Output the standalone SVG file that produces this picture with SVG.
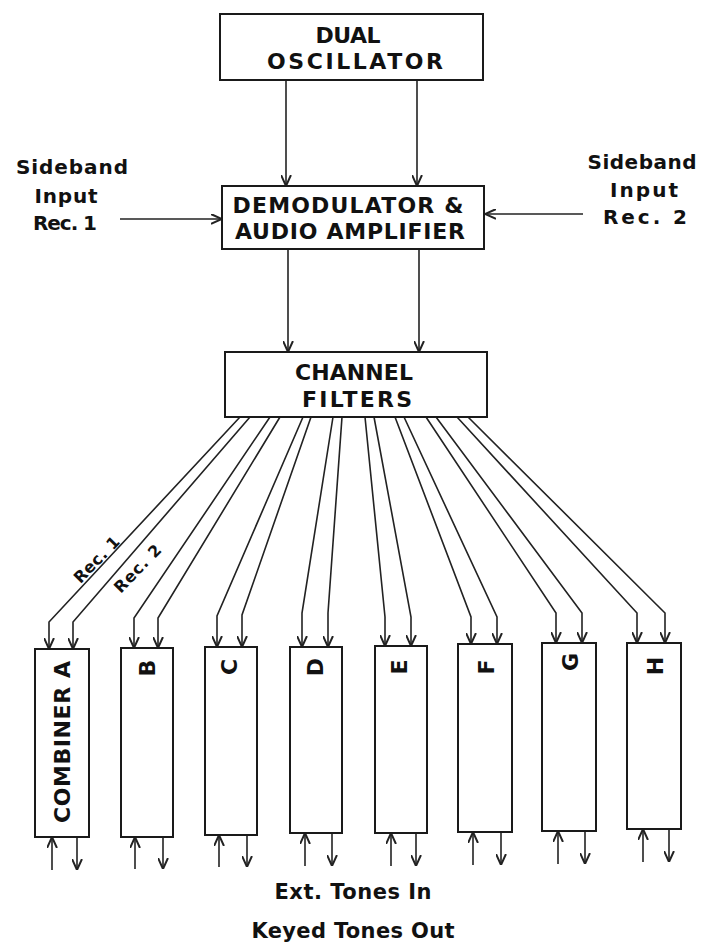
<svg xmlns="http://www.w3.org/2000/svg" width="712" height="948" viewBox="0 0 712 948">
<style>
  .box { fill: #fff; stroke: #1a1a1a; stroke-width: 2; }
  .ln { fill: none; stroke: #222; stroke-width: 1.6; }
  .lbl { font-family: "DejaVu Sans", "Liberation Sans", sans-serif; font-weight: bold; font-size: 22px; fill: #111; text-anchor: middle; }
  .sm { font-family: "DejaVu Sans", "Liberation Sans", sans-serif; font-weight: bold; font-size: 20px; fill: #111; text-anchor: middle; }
  .bt { font-family: "DejaVu Sans", "Liberation Sans", sans-serif; font-weight: bold; font-size: 21px; fill: #111; text-anchor: middle; }
  .rec { font-family: "DejaVu Sans", "Liberation Sans", sans-serif; font-weight: bold; font-size: 16px; fill: #111; text-anchor: middle; }
</style>
<defs>
  <marker id="arr" viewBox="0 0 10 10" refX="10" refY="5" markerWidth="11" markerHeight="11" markerUnits="userSpaceOnUse" orient="auto">
    <path d="M0,0.5 L10,5 L0,9.5" fill="none" stroke="#222" stroke-width="1.8"/>
  </marker>
</defs>
<rect width="712" height="948" fill="#fff"/>

<g id="connectors" class="ln" marker-end="url(#arr)">
  <line x1="286" y1="80" x2="286" y2="186"/>
  <line x1="417" y1="80" x2="417" y2="186"/>
  <line x1="120" y1="219" x2="222" y2="219"/>
  <line x1="583" y1="214" x2="485" y2="214"/>
  <line x1="288" y1="249" x2="288" y2="352"/>
  <line x1="419" y1="249" x2="419" y2="352"/>
  <polyline points="240,417 49,622 49,649"/>
  <polyline points="250,417 73,622 73,649"/>
  <polyline points="270,417 134,618 134,648"/>
  <polyline points="280,417 158,618 158,648"/>
  <polyline points="303,417 217,616 217,647"/>
  <polyline points="311,417 242,615 242,647"/>
  <polyline points="333,417 302,613 302,647"/>
  <polyline points="342,417 328,613 328,647"/>
  <polyline points="365,417 385,617 385,646"/>
  <polyline points="374,417 411,617 411,646"/>
  <polyline points="395,417 471,617 471,644"/>
  <polyline points="404,417 497,617 497,644"/>
  <polyline points="426,417 556,613 556,643"/>
  <polyline points="436,417 582,613 582,643"/>
  <polyline points="457,417 637,613 637,643"/>
  <polyline points="468,417 665,613 665,643"/>
  <line x1="52" y1="870" x2="52" y2="837"/>
  <line x1="77" y1="837" x2="77" y2="870"/>
  <line x1="135" y1="869" x2="135" y2="837"/>
  <line x1="163" y1="837" x2="163" y2="869"/>
  <line x1="219" y1="867" x2="219" y2="835"/>
  <line x1="247" y1="835" x2="247" y2="867"/>
  <line x1="305" y1="866" x2="305" y2="833"/>
  <line x1="332" y1="833" x2="332" y2="866"/>
  <line x1="391" y1="866" x2="391" y2="833"/>
  <line x1="416" y1="833" x2="416" y2="866"/>
  <line x1="473" y1="865" x2="473" y2="832"/>
  <line x1="501" y1="832" x2="501" y2="865"/>
  <line x1="558" y1="864" x2="558" y2="831"/>
  <line x1="585" y1="831" x2="585" y2="864"/>
  <line x1="643" y1="862" x2="643" y2="829"/>
  <line x1="669" y1="829" x2="669" y2="862"/>
</g>

<g id="dual-oscillator">
  <rect class="box" x="220" y="14" width="263" height="66"/>
  <text class="lbl" x="348" y="43" textLength="65" lengthAdjust="spacing">DUAL</text>
  <text class="lbl" x="355" y="69" textLength="176" lengthAdjust="spacing">OSCILLATOR</text>
</g>

<g id="demodulator">
  <rect class="box" x="222" y="186" width="262" height="63"/>
  <text class="lbl" x="348" y="213" textLength="231" lengthAdjust="spacing">DEMODULATOR &amp;</text>
  <text class="lbl" x="350" y="239" textLength="230" lengthAdjust="spacing">AUDIO AMPLIFIER</text>
</g>

<g id="sideband-1">
  <text class="sm" x="72" y="174" textLength="112" lengthAdjust="spacing">Sideband</text>
  <text class="sm" x="66" y="203" textLength="63" lengthAdjust="spacing">Input</text>
  <text class="sm" x="65" y="230" textLength="64" lengthAdjust="spacing">Rec. 1</text>
</g>

<g id="sideband-2">
  <text class="sm" x="642" y="169" textLength="109" lengthAdjust="spacing">Sideband</text>
  <text class="sm" x="644" y="197" textLength="68" lengthAdjust="spacing">Input</text>
  <text class="sm" x="645" y="224" textLength="84" lengthAdjust="spacing">Rec. 2</text>
</g>

<g id="channel-filters">
  <rect class="box" x="225" y="352" width="262" height="65"/>
  <text class="lbl" x="354" y="380" textLength="118" lengthAdjust="spacing">CHANNEL</text>
  <text class="lbl" x="357" y="407" textLength="110" lengthAdjust="spacing">FILTERS</text>
</g>

<g id="rec-labels">
  <text class="rec" transform="translate(97,560) rotate(-46)" y="5" textLength="58" lengthAdjust="spacing">Rec. 1</text>
  <text class="rec" transform="translate(138,569) rotate(-46)" y="5" textLength="60" lengthAdjust="spacing">Rec. 2</text>
</g>

<g id="combiner-a">
  <rect class="box" x="35" y="649" width="54" height="188"/>
  <text class="lbl" transform="translate(70,742) rotate(-90)" textLength="162" lengthAdjust="spacing">COMBINER A</text>
</g>
<g id="combiner-b">
  <rect class="box" x="121" y="648" width="52" height="189"/>
  <text class="lbl" transform="translate(155,668) rotate(-90)">B</text>
</g>
<g id="combiner-c">
  <rect class="box" x="205" y="647" width="52" height="188"/>
  <text class="lbl" transform="translate(237,667) rotate(-90)">C</text>
</g>
<g id="combiner-d">
  <rect class="box" x="290" y="647" width="52" height="186"/>
  <text class="lbl" transform="translate(323,667) rotate(-90)">D</text>
</g>
<g id="combiner-e">
  <rect class="box" x="375" y="646" width="52" height="187"/>
  <text class="lbl" transform="translate(407,667) rotate(-90)">E</text>
</g>
<g id="combiner-f">
  <rect class="box" x="458" y="644" width="54" height="188"/>
  <text class="lbl" transform="translate(494,667) rotate(-90)">F</text>
</g>
<g id="combiner-g">
  <rect class="box" x="542" y="643" width="54" height="188"/>
  <text class="lbl" transform="translate(578,662) rotate(-90)">G</text>
</g>
<g id="combiner-h">
  <rect class="box" x="627" y="643" width="54" height="186"/>
  <text class="lbl" transform="translate(663,666) rotate(-90)">H</text>
</g>

<g id="bottom-labels">
  <text class="bt" x="353" y="899" textLength="157" lengthAdjust="spacing">Ext. Tones In</text>
  <text class="bt" x="353" y="938" textLength="203" lengthAdjust="spacing">Keyed Tones Out</text>
</g>
</svg>
